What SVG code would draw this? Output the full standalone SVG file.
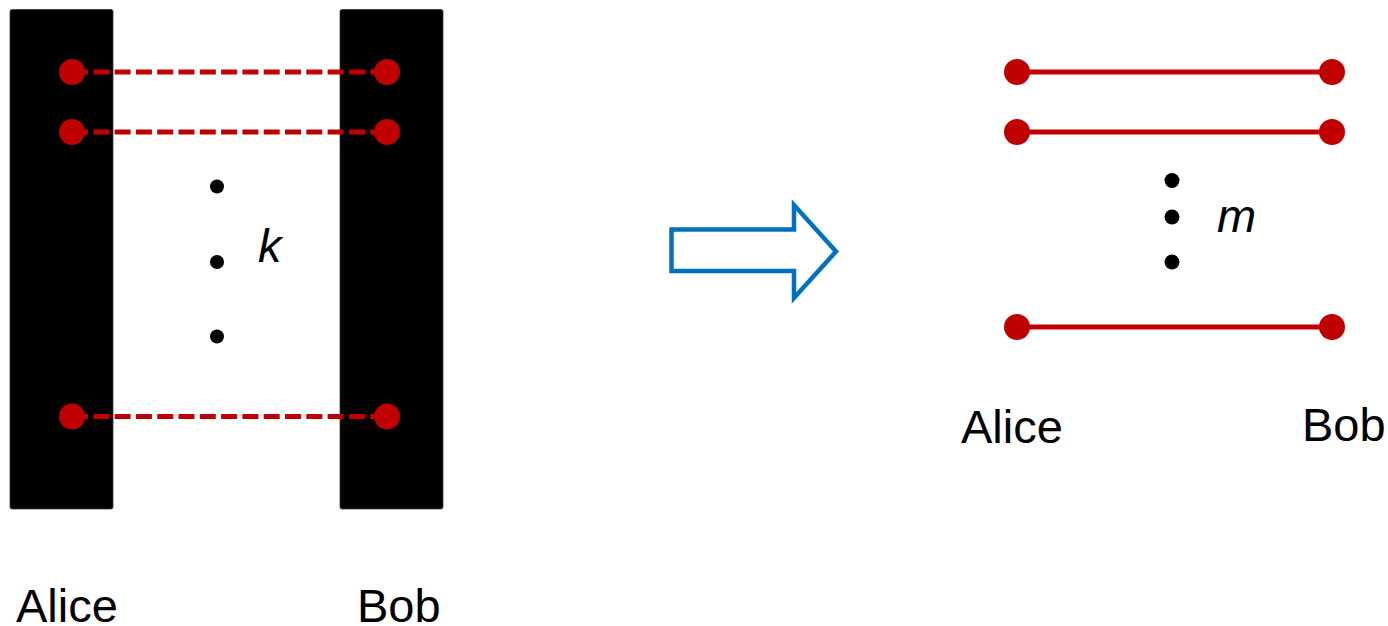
<svg xmlns="http://www.w3.org/2000/svg" width="1388" height="626" viewBox="0 0 1388 626">
  <style>
    .box { fill: #000000; stroke: #3a3a3a; stroke-width: 0.8; }
    .end { fill: #C00000; }
    .dot { fill: #000000; }
    .link { stroke: #C00000; stroke-width: 5; fill: none; }
    .dashed { stroke-dasharray: 16 5.3; }
    .label { font-family: "Liberation Sans", Arial, sans-serif; font-size: 47px; fill: #000000; }
    .var { font-style: italic; }
  </style>

  <!-- left: parties holding k shared pairs -->
  <g id="alice-box"><rect class="box" x="10" y="9.5" width="103" height="499.5" rx="2"/></g>
  <g id="bob-box"><rect class="box" x="340" y="9.5" width="103" height="499.5" rx="2"/></g>

  <g id="connectors">
    <line class="link dashed" x1="72" y1="72" x2="387" y2="72"/>
    <line class="link dashed" x1="72" y1="132" x2="387" y2="132"/>
    <line class="link dashed" x1="72" y1="416.5" x2="387" y2="416.5"/>
    <line class="link" x1="1017" y1="72" x2="1332" y2="72"/>
    <line class="link" x1="1017" y1="132" x2="1332" y2="132"/>
    <line class="link" x1="1017" y1="327" x2="1332" y2="327"/>
  </g>

  <g id="left-pairs">
    <circle class="end" cx="72" cy="72" r="13"/>
    <circle class="end" cx="387" cy="72" r="13"/>
    <circle class="end" cx="72" cy="132" r="13"/>
    <circle class="end" cx="387" cy="132" r="13"/>
    <circle class="end" cx="72" cy="416.5" r="13"/>
    <circle class="end" cx="387" cy="416.5" r="13"/>
  </g>

  <g id="left-ellipsis">
    <circle class="dot" cx="217" cy="186.5" r="7"/>
    <circle class="dot" cx="217" cy="262" r="7"/>
    <circle class="dot" cx="217" cy="336.5" r="7"/>
    <text class="label var" x="258" y="262">k</text>
  </g>

  <g id="left-labels">
    <text class="label" x="16" y="622">Alice</text>
    <text class="label" x="357" y="622">Bob</text>
  </g>

  <!-- transformation arrow -->
  <g id="arrow">
    <path d="M671.5,229.5 H794 V205 L836,251.5 L794,298 V271 H671.5 Z" fill="#ffffff" stroke="#0070C0" stroke-width="4.5" stroke-linejoin="miter"/>
  </g>

  <!-- right: m distilled pairs -->
  <g id="right-pairs">
    <circle class="end" cx="1017" cy="72" r="13"/>
    <circle class="end" cx="1332" cy="72" r="13"/>
    <circle class="end" cx="1017" cy="132" r="13"/>
    <circle class="end" cx="1332" cy="132" r="13"/>
    <circle class="end" cx="1017" cy="327" r="13"/>
    <circle class="end" cx="1332" cy="327" r="13"/>
  </g>

  <g id="right-ellipsis">
    <circle class="dot" cx="1172" cy="180.5" r="7.5"/>
    <circle class="dot" cx="1172" cy="217" r="7.5"/>
    <circle class="dot" cx="1172" cy="262" r="7.5"/>
    <text class="label var" x="1217" y="232">m</text>
  </g>

  <g id="right-labels">
    <text class="label" x="961" y="443">Alice</text>
    <text class="label" x="1302" y="440.5">Bob</text>
  </g>
</svg>
